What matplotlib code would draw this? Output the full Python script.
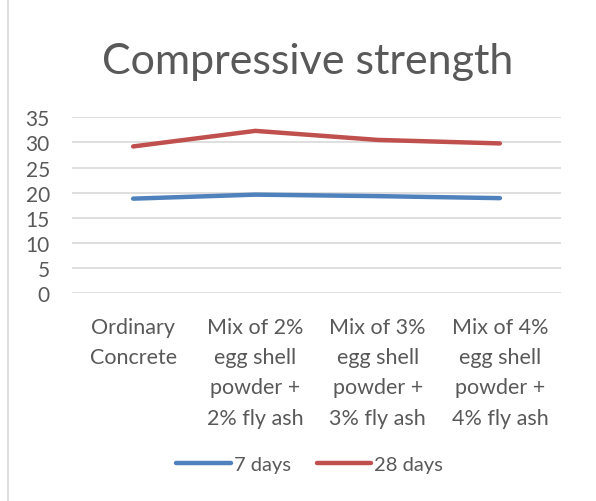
import matplotlib.pyplot as plt
from matplotlib.lines import Line2D

categories = ["Ordinary\nConcrete",
              "Mix of 2%\negg shell\npowder +\n2% fly ash",
              "Mix of 3%\negg shell\npowder +\n3% fly ash",
              "Mix of 4%\negg shell\npowder +\n4% fly ash"]
days_7 = [18.8, 19.6, 19.3, 18.9]
days_28 = [29.2, 32.3, 30.5, 29.8]

plt.rcParams['font.family'] = ['Lato', 'DejaVu Sans']
txt = "#595959"

fig = plt.figure(figsize=(5.96, 5.02), dpi=100)
ax = fig.add_axes([0.1208, 0.4143, 0.8205, 0.350])

x = range(len(categories))
ax.plot(x, days_7, color="#4F81BD", linewidth=3.2, solid_capstyle="round", label="7 days", zorder=3)
ax.plot(x, days_28, color="#C0504D", linewidth=3.2, solid_capstyle="round", label="28 days", zorder=3)

ax.set_xlim(-0.5, 3.5)
ax.set_ylim(0, 35)
ax.set_yticks(range(0, 36, 5))
ax.set_xticks(list(x))
ax.set_xticklabels(categories, fontsize=15.5, color=txt, linespacing=1.65)
ax.tick_params(axis="y", length=0, pad=16, labelsize=15, labelcolor=txt)
ax.tick_params(axis="x", length=0, pad=17)
ax.grid(axis="y", color="#D9D9D9", linewidth=1.2)
ax.set_axisbelow(True)
for s in ax.spines.values():
    s.set_visible(False)

fig.text(0.517, 0.876, "Compressive strength", ha="center", va="center", fontsize=31, color=txt)

leg = fig.legend(loc="center", bbox_to_anchor=(0.52, 0.072), ncol=2, frameon=False,
                 fontsize=14.5, handlelength=2.7, handletextpad=0.15, columnspacing=1.3)
for t in leg.get_texts():
    t.set_color(txt)

fig.add_artist(Line2D([8 / 596, 8 / 596], [0, 1], color="#D9D9D9", linewidth=1.2))

fig.savefig("out.png", dpi=100)
